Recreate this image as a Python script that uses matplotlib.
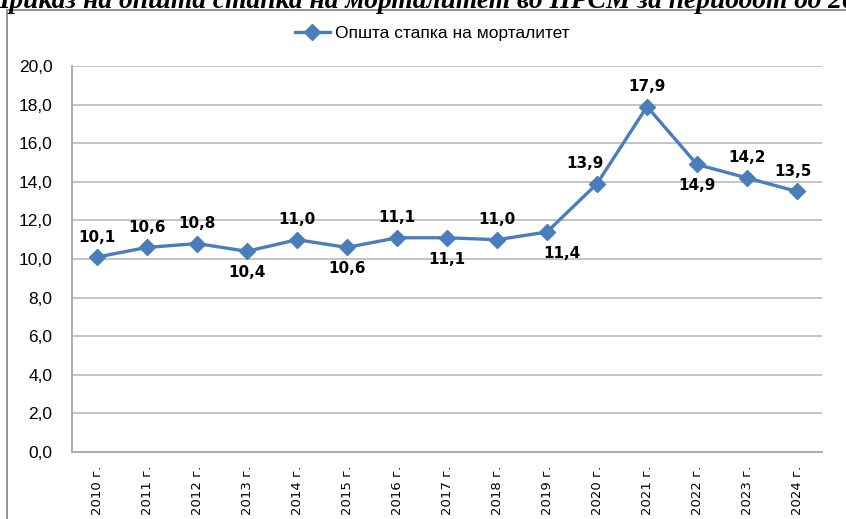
import matplotlib.pyplot as plt
from matplotlib.patches import Rectangle

# podatoci
godini = ['2010 г.', '2011 г.', '2012 г.', '2013 г.', '2014 г.', '2015 г.', '2016 г.',
          '2017 г.', '2018 г.', '2019 г.', '2020 г.', '2021 г.', '2022 г.', '2023 г.', '2024 г.']
stapka = [10.1, 10.6, 10.8, 10.4, 11.0, 10.6, 11.1, 11.1, 11.0, 11.4, 13.9, 17.9, 14.9, 14.2, 13.5]
# kade stoi oznakata: 1 = gore, -1 = dolu
pozicija = [1, 1, 1, -1, 1, -1, 1, -1, 1, -1, 1, 1, -1, 1, 1]

boja = '#4A7EBB'
W, H = 846, 519

fig = plt.figure(figsize=(W / 100, H / 100), dpi=100)
ax = fig.add_axes([72 / W, 1 - 452 / H, 750 / W, (452 - 66) / H])

x = list(range(len(godini)))
ax.plot(x, stapka, color=boja, lw=2.4, marker='D', ms=8.5, label='Општа стапка на морталитет',
        zorder=3, clip_on=False)

# malo pomestuvanje na nekoi oznaki (kako vo Excel)
dx = {9: 11, 10: -9, 14: -3}
for i, v in enumerate(stapka):
    txt = f'{v:.1f}'.replace('.', ',')
    if pozicija[i] > 0:
        ax.annotate(txt, (i, v), xytext=(dx.get(i, 0), 9), textcoords='offset points', ha='center',
                    va='bottom', fontsize=11, fontweight='bold', family='DejaVu Sans')
    else:
        ax.annotate(txt, (i, v), xytext=(dx.get(i, 0), -10), textcoords='offset points', ha='center',
                    va='top', fontsize=11, fontweight='bold', family='DejaVu Sans')

ax.set_xlim(-0.5, len(godini) - 0.5)
ax.set_ylim(0, 20)
ax.set_yticks([0, 2, 4, 6, 8, 10, 12, 14, 16, 18, 20])
ax.set_yticklabels([f'{t:.1f}'.replace('.', ',') for t in ax.get_yticks()],
                   fontsize=12.5, family='Liberation Sans')
ax.set_xticks(x)
ax.set_xticklabels(godini, rotation=90, fontsize=9.5, family='DejaVu Sans')
ax.tick_params(axis='y', length=0, pad=14)
ax.tick_params(axis='x', length=0, pad=10)

ax.grid(axis='y', color='#BFBFBF', lw=1.3)
ax.set_axisbelow(True)
for s in ['top', 'right']:
    ax.spines[s].set_visible(False)
for s in ['left', 'bottom']:
    ax.spines[s].set_color('#A6A6A6')
    ax.spines[s].set_linewidth(1.3)

ax.legend(loc='upper center', bbox_to_anchor=(0.48, 1.145), frameon=False,
          prop={'family': 'Liberation Sans', 'size': 12.5}, handlelength=2.0, handletextpad=0.3)

# ramka okolu grafikot
fig.patches.append(Rectangle((7 / W, -0.1), 1.1, 1 - 10 / H + 0.1, transform=fig.transFigure,
                             fill=False, edgecolor='#8C8C8C', lw=1.3))

# naslov (presecen od gore)
fig.text(-12 / W, 1 - 8 / H, 'Приказ на општа стапка на морталитет во НРСМ за периодот од 2010 до 2024 година',
         ha='left', va='baseline', fontsize=19.8, fontweight='bold', fontstyle='italic',
         family='Liberation Serif')

fig.savefig('out.png', dpi=100)
